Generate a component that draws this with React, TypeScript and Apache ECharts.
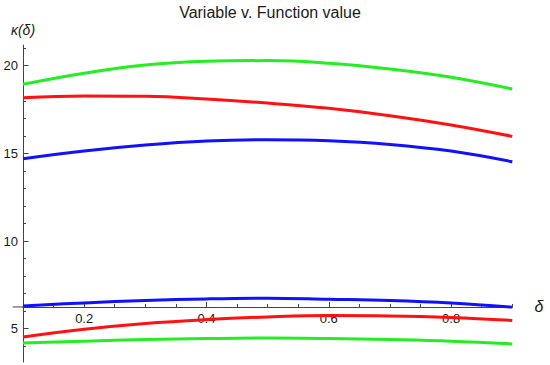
import React, { useEffect, useRef } from "react";
import * as echarts from "echarts";

const xs = [0.1, 0.2, 0.3, 0.4, 0.5, 0.6, 0.7, 0.8, 0.9];
const greenUpper = [18.94, 19.57, 20.04, 20.25, 20.29, 20.14, 19.81, 19.34, 18.67];
const redUpper = [18.17, 18.27, 18.25, 18.1, 17.87, 17.57, 17.15, 16.62, 15.97];
const blueUpper = [14.69, 15.13, 15.47, 15.7, 15.78, 15.72, 15.51, 15.13, 14.52];
const blueLower = [6.3, 6.47, 6.61, 6.7, 6.74, 6.68, 6.61, 6.47, 6.23];
const redLower = [4.53, 4.97, 5.3, 5.52, 5.67, 5.75, 5.73, 5.64, 5.47];
const greenLower = [4.19, 4.29, 4.38, 4.44, 4.47, 4.44, 4.38, 4.29, 4.13];

const xMajorTicks = [0.2, 0.4, 0.6, 0.8];
const xMinorTicks = [0.15, 0.25, 0.3, 0.35, 0.45, 0.5, 0.55, 0.65, 0.7, 0.75, 0.85, 0.9];
const yMajorTicks = [5, 10, 15, 20];
const yMinorTicks = [4, 6, 7, 8, 9, 11, 12, 13, 14, 16, 17, 18, 19, 21];

const X_MIN = 0.1;
const X_MAX = 0.9;
const Y_MIN = 3.1;
const Y_MAX = 21.18;
const X_AXIS_CROSS = 6.24;

const GREEN = "#22ee22";
const RED = "#ff1111";
const BLUE = "#1111ff";
const AXIS = "#444444";
const FONT = "Liberation Sans, Arial, sans-serif";

export default function App() {
  const ref = useRef<HTMLDivElement>(null);
  useEffect(() => {
    if (!ref.current) return;
    const chart = echarts.init(ref.current, undefined, { renderer: "svg" });
    const H = 365;
    const grid = { left: 23, right: 37.7, top: 45, bottom: 3 };
    const plotH = H - grid.top - grid.bottom;
    const crossPx = grid.top + ((Y_MAX - X_AXIS_CROSS) / (Y_MAX - Y_MIN)) * plotH;
    const xOffset = -(H - grid.bottom - crossPx);

    const mk = (ys: number[], color: string) => ({
      type: "line",
      data: xs.map((x, i) => [x, ys[i]]),
      showSymbol: false,
      smooth: 0.4,
      clip: false,
      xAxisIndex: 0,
      yAxisIndex: 0,
      lineStyle: { color, width: 3 },
      itemStyle: { color },
    });

    const baseX = {
      type: "value",
      min: X_MIN,
      max: X_MAX,
      position: "bottom",
      offset: xOffset,
      splitLine: { show: false },
    };
    const baseY = {
      type: "value",
      min: Y_MIN,
      max: Y_MAX,
      position: "left",
      splitLine: { show: false },
    };

    chart.setOption({
      animation: false,
      grid,
      graphic: [
        {
          type: "text",
          x: 270,
          y: 12,
          style: {
            text: "Variable v. Function value",
            align: "center",
            verticalAlign: "middle",
            fontSize: 16,
            fontFamily: FONT,
            fill: "#1a1a1a",
          },
        },
        {
          type: "text",
          x: 23,
          y: 30,
          style: {
            text: "κ(δ)",
            align: "center",
            verticalAlign: "middle",
            fontSize: 14,
            fontStyle: "italic",
            fontFamily: FONT,
            fill: "#1a1a1a",
          },
        },
        {
          type: "text",
          x: 539,
          y: crossPx,
          style: {
            text: "δ",
            align: "center",
            verticalAlign: "middle",
            fontSize: 16,
            fontStyle: "italic",
            fontFamily: FONT,
            fill: "#1a1a1a",
          },
        },
        {
          type: "line",
          shape: { x1: 12.5, y1: crossPx, x2: grid.left, y2: crossPx },
          style: { stroke: AXIS, lineWidth: 1 },
        },
      ],
      xAxis: [
        {
          ...baseX,
          axisLine: { show: true, lineStyle: { color: AXIS, width: 1 } },
          axisTick: { show: true, inside: true, length: 5, customValues: xMajorTicks, lineStyle: { color: AXIS } },
          axisLabel: {
            show: true,
            customValues: xMajorTicks,
            margin: 5,
            fontSize: 13,
            fontFamily: FONT,
            color: "#1a1a1a",
            formatter: (v: number) => v.toFixed(1),
          },
        },
        {
          ...baseX,
          axisLine: { show: false },
          axisTick: { show: true, inside: true, length: 3, customValues: xMinorTicks, lineStyle: { color: AXIS } },
          axisLabel: { show: false },
        },
      ],
      yAxis: [
        {
          ...baseY,
          axisLine: { show: true, lineStyle: { color: AXIS, width: 1 } },
          axisTick: { show: true, inside: true, length: 5.5, customValues: yMajorTicks, lineStyle: { color: AXIS } },
          axisLabel: {
            show: true,
            customValues: yMajorTicks,
            margin: 5,
            fontSize: 13,
            fontFamily: FONT,
            color: "#1a1a1a",
          },
        },
        {
          ...baseY,
          axisLine: { show: false },
          axisTick: { show: true, inside: true, length: 3, customValues: yMinorTicks, lineStyle: { color: AXIS } },
          axisLabel: { show: false },
        },
      ],
      series: [
        mk(greenUpper, GREEN),
        mk(redUpper, RED),
        mk(blueUpper, BLUE),
        mk(blueLower, BLUE),
        mk(redLower, RED),
        mk(greenLower, GREEN),
      ],
    });
    return () => chart.dispose();
  }, []);
  return (
    <div
      ref={ref}
      style={{ position: "fixed", left: 0, top: 0, width: 550, height: 365, background: "#fff" }}
    />
  );
}
